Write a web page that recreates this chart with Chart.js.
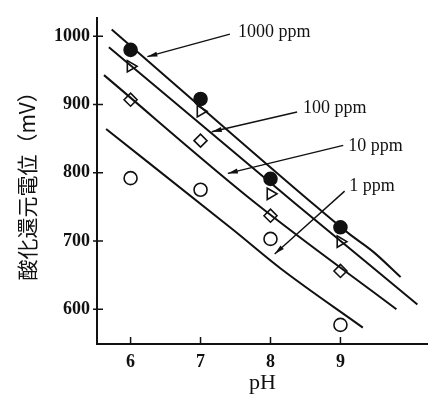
<!DOCTYPE html>
<html lang="ja">
<head>
    <meta charset="UTF-8">
    <title>pHと酸化還元電位</title>
    <style>
        body {
            margin: 0;
            background: #fff;
        }
        #chart-container {
            width: 436px;
            height: 400px;
        }
    </style>
    <script src="https://cdn.jsdelivr.net/npm/chart.js"></script>
</head>
<body>
    <div id="chart-container">
        <canvas id="orpChart"></canvas>
    </div>

    <script>
        // 測定値 (pH と 濃度ごとの酸化還元電位 mV)
        const phValues = [6, 7, 8, 9];
        const orp1000 = [980, 908, 791, 720];
        const orp100 = [956, 890, 769, 699];
        const orp10 = [907, 847, 737, 656];
        const orp1 = [792, 775, 703, 577];

        // 回帰線 (pH, mV)
        const line1000X = [5.73, 8.59, 9.13, 9.47, 9.86];
        const line1000Y = [1010, 756, 710, 684, 647];
        const line100X = [5.69, 8.34, 10.10];
        const line100Y = [984, 756, 607];
        const line10X = [5.62, 7.78, 9.80];
        const line10Y = [943, 756, 600];
        const line1X = [5.65, 7.47, 8.14, 9.32];
        const line1Y = [864, 716, 660, 573];

        // 目盛
        const xTicks = [6, 7, 8, 9];
        const yTicks = [600, 700, 800, 900, 1000];

        const seriesLabels = ['1000 ppm', '100 ppm', '10 ppm', '1 ppm'];

        // 注記の位置 (データ座標)
        const notes = [
            { text: seriesLabels[0], x: 7.535, y: 1006, tail: [7.42, 1003], head: [6.24, 970] },
            { text: seriesLabels[1], x: 8.465, y: 894, tail: [8.38, 889], head: [7.16, 860] },
            { text: seriesLabels[2], x: 9.113, y: 839, tail: [9.04, 840], head: [7.39, 799] },
            { text: seriesLabels[3], x: 9.127, y: 780, tail: [9.06, 773], head: [8.06, 681] }
        ];

        function toPoints(xs, ys) {
            return xs.map((x, i) => ({ x: x, y: ys[i] }));
        }

        function lineSet(xs, ys) {
            return {
                data: toPoints(xs, ys),
                borderColor: '#111',
                borderWidth: 2,
                pointRadius: 0,
                cubicInterpolationMode: 'monotone',
                fill: false
            };
        }

        function pointSet(ys, style, filled, rotation) {
            return {
                data: toPoints(phValues, ys),
                showLine: false,
                pointStyle: style,
                rotation: rotation || 0,
                pointRadius: 6.5,
                pointBorderWidth: 1.6,
                pointBorderColor: '#111',
                pointBackgroundColor: filled ? '#111' : '#fff'
            };
        }

        // 内向きの目盛線
        const innerTicks = {
            id: 'innerTicks',
            afterDraw(chart) {
                const ctx = chart.ctx;
                const xs = chart.scales.x;
                const ys = chart.scales.y;
                ctx.save();
                ctx.strokeStyle = '#111';
                ctx.lineWidth = 1.5;
                ctx.beginPath();
                yTicks.forEach(v => {
                    const py = ys.getPixelForValue(v);
                    ctx.moveTo(ys.right - 4, py);
                    ctx.lineTo(ys.right + 6, py);
                });
                xTicks.forEach(v => {
                    const px = xs.getPixelForValue(v);
                    ctx.moveTo(px, xs.top);
                    ctx.lineTo(px, xs.top - 7);
                });
                ctx.stroke();
                ctx.restore();
            }
        };

        // 矢印と濃度ラベル
        const arrowNotes = {
            id: 'arrowNotes',
            afterDraw(chart) {
                const ctx = chart.ctx;
                const xs = chart.scales.x;
                const ys = chart.scales.y;
                ctx.save();
                ctx.strokeStyle = '#111';
                ctx.fillStyle = '#111';
                ctx.lineWidth = 1.4;
                notes.forEach(n => {
                    const tx = xs.getPixelForValue(n.tail[0]);
                    const ty = ys.getPixelForValue(n.tail[1]);
                    const hx = xs.getPixelForValue(n.head[0]);
                    const hy = ys.getPixelForValue(n.head[1]);
                    const ang = Math.atan2(hy - ty, hx - tx);
                    ctx.beginPath();
                    ctx.moveTo(tx, ty);
                    ctx.lineTo(hx, hy);
                    ctx.stroke();
                    ctx.beginPath();
                    ctx.moveTo(hx, hy);
                    ctx.lineTo(hx - 10 * Math.cos(ang) + 2.5 * Math.sin(ang), hy - 10 * Math.sin(ang) - 2.5 * Math.cos(ang));
                    ctx.lineTo(hx - 10 * Math.cos(ang) - 2.5 * Math.sin(ang), hy - 10 * Math.sin(ang) + 2.5 * Math.cos(ang));
                    ctx.closePath();
                    ctx.fill();

                    ctx.font = '18px "Liberation Serif", serif';
                    ctx.textBaseline = 'middle';
                    ctx.textAlign = 'left';
                    ctx.fillText(n.text, xs.getPixelForValue(n.x), ys.getPixelForValue(n.y));
                });
                ctx.restore();
            }
        };

        const ctx = document.getElementById('orpChart').getContext('2d');
        new Chart(ctx, {
            type: 'line',
            data: {
                datasets: [
                    lineSet(line1000X, line1000Y),
                    lineSet(line100X, line100Y),
                    lineSet(line10X, line10Y),
                    lineSet(line1X, line1Y),
                    pointSet(orp1000, 'circle', true),
                    pointSet(orp100, 'triangle', false, 90),
                    pointSet(orp10, 'rectRot', false),
                    pointSet(orp1, 'circle', false)
                ]
            },
            options: {
                responsive: true,
                maintainAspectRatio: false,
                animation: false,
                layout: {
                    padding: { top: 10, right: 4, left: 0, bottom: 0 }
                },
                plugins: {
                    legend: { display: false },
                    tooltip: { enabled: false }
                },
                scales: {
                    x: {
                        type: 'linear',
                        min: 5.52,
                        max: 10.25,
                        afterBuildTicks: s => { s.ticks = xTicks.map(v => ({ value: v })); },
                        afterFit: s => { s.height = 56; },
                        grid: { display: false, drawTicks: false },
                        border: { display: true, color: '#111', width: 2 },
                        ticks: {
                            padding: 8,
                            color: '#111',
                            callback: v => String(v),
                            font: { family: '"Liberation Serif", serif', size: 18, weight: 'bold' }
                        },
                        title: {
                            display: true,
                            text: 'pH',
                            color: '#111',
                            padding: { top: 2, bottom: 4 },
                            font: { family: '"Liberation Serif", serif', size: 22 }
                        }
                    },
                    y: {
                        min: 549,
                        max: 1027,
                        afterBuildTicks: s => { s.ticks = yTicks.map(v => ({ value: v })); },
                        afterFit: s => { s.width = 97; },
                        grid: { display: false, drawTicks: false },
                        border: { display: true, color: '#111', width: 2 },
                        ticks: {
                            padding: 7,
                            color: '#111',
                            callback: v => String(v),
                            font: { family: '"Liberation Serif", serif', size: 18, weight: 'bold' }
                        },
                        title: {
                            display: true,
                            text: '酸化還元電位（mV）',
                            color: '#111',
                            padding: { top: 14, bottom: 0 },
                            font: { family: '"Noto Sans CJK JP", sans-serif', size: 21 }
                        }
                    }
                }
            },
            plugins: [innerTicks, arrowNotes]
        });
    </script>
</body>
</html>
